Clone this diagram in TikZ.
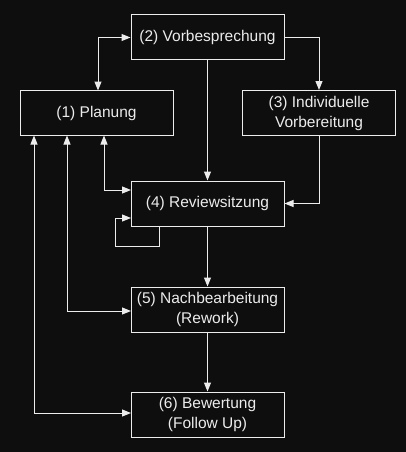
\documentclass[tikz,border=0pt]{standalone}
\usepackage{fontspec}
\setmainfont{Liberation Sans}
\usetikzlibrary{arrows.meta}
\definecolor{bg}{RGB}{14,14,14}
\definecolor{fg}{RGB}{236,236,236}
\begin{document}
\begin{tikzpicture}[x=1pt,y=-1pt,
  box/.style={draw=fg,line width=1pt,fill=bg,text=fg,minimum width=153pt,minimum height=45pt,
    inner sep=0pt,align=center,font=\fontsize{15.5}{20}\selectfont},
  conn/.style={draw=fg,line width=1pt,-{Triangle[length=9pt,width=7pt]}},
  dconn/.style={draw=fg,line width=1pt,{Triangle[length=9pt,width=7pt]}-{Triangle[length=9pt,width=7pt]}}]
\fill[bg] (0,0) rectangle (406,452);
\useasboundingbox (0,0) rectangle (406,452);
\node[box] (b2) at (207.5,37.5) {(2) Vorbesprechung};
\node[box] (b1) at (96.5,113) {(1) Planung};
\node[box] (b3) at (319,113) {(3) Individuelle\\Vorbereitung};
\node[box] (b4) at (207.5,203.5) {(4) Reviewsitzung};
\node[box] (b5) at (207.5,309.5) {(5) Nachbearbeitung\\(Rework)};
\node[box] (b6) at (207.5,414.5) {(6) Bewertung\\(Follow Up)};
\coordinate (p1) at (104,135.5);
\coordinate (p2) at (67,135.5);
\coordinate (p3) at (34,135.5);
\coordinate (q4) at (131,190);
\coordinate (q5) at (131,311);
\coordinate (q6) at (131,413);
\coordinate (s1) at (159,226);
\coordinate (s2) at (131,218);
\coordinate (t1) at (98,90.5);
\draw[dconn] (t1) |- (b2.west);
\draw[conn] (b2.east) -| (b3.north);
\draw[conn] (b2.south) -- (b4.north);
\draw[conn] (b3.south) |- (b4.east);
\draw[dconn] (p1) |- (q4);
\draw[conn] (s1) |- (115,246) |- (s2);
\draw[dconn] (p2) |- (q5);
\draw[dconn] (p3) |- (q6);
\draw[conn] (b4.south) -- (b5.north);
\draw[conn] (b5.south) -- (b6.north);
\end{tikzpicture}
\end{document}
